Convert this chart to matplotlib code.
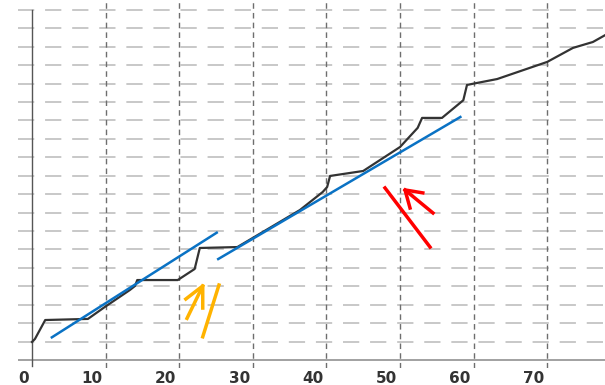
import matplotlib.pyplot as plt
from matplotlib.transforms import ScaledTranslation

# cumulative curve (x, y)
curve_x = [0.0, 0.4, 1.8, 7.6, 9.9, 13.3, 14.0, 14.3, 19.8, 22.1, 22.8, 27.9,
           36.4, 39.5, 40.1, 40.5, 45.0, 50.0, 52.4, 53.0, 55.7, 58.6, 59.1,
           60.5, 63.2, 70.0, 73.5, 76.2, 77.9]
curve_y = [0.98, 1.14, 2.17, 2.23, 2.88, 3.80, 4.02, 4.34, 4.34, 4.94, 6.08, 6.13,
           8.14, 9.12, 9.39, 9.99, 10.26, 11.56, 12.6, 13.14, 13.14, 14.1, 14.93,
           15.04, 15.25, 16.18, 16.94, 17.26, 17.64]

# fitted trend segments
fit1_x = [2.7, 25.1]
fit1_y = [1.23, 6.91]
fit2_x = [25.3, 58.2]
fit2_y = [5.48, 13.19]

# hand-drawn markers
orange_bar_x = [23.2, 25.4]
orange_bar_y = [1.26, 4.07]
orange_arrow_x = [21.06, 23.2]
orange_arrow_y = [2.26, 4.02]
orange_wings_x = [20.9, 23.2, 23.2]
orange_wings_y = [3.31, 4.02, 2.82]

red_bar_x = [47.96, 54.08]
red_bar_y = [9.34, 6.13]
red_arrow_x = [54.48, 50.68]
red_arrow_y = [7.98, 9.23]
red_wings_x = [51.36, 50.68, 53.1]
red_wings_y = [8.25, 9.23, 9.07]

xticks = [0, 10, 20, 30, 40, 50, 60, 70]

fig = plt.figure(figsize=(6.05, 3.85), dpi=100)
ax = fig.add_axes([18 / 605, 1 - 368 / 385, 1 - 18 / 605, 368 / 385])
ax.set_xlim(-1.9, 77.85)
ax.set_ylim(-0.434, 19.54)
for s in ax.spines.values():
    s.set_visible(False)

# grid
for yv in range(1, 20):
    ax.axhline(yv, color="#c4c4c4", lw=1.3, dashes=(9, 6), zorder=1)
for xv in xticks[1:]:
    ax.axvline(xv, color="#6e6e6e", lw=1.0, dashes=(4, 3), zorder=1)
ax.axhline(0, color="#9a9a9a", lw=1.3, zorder=2)
ax.plot([0, 0], [-0.3, 19], color="#555555", lw=1.0, zorder=2)

ax.plot(curve_x, curve_y, color="#333333", lw=1.6, zorder=3)
ax.plot(fit1_x, fit1_y, color="#0a72c4", lw=1.8, zorder=4)
ax.plot(fit2_x, fit2_y, color="#0a72c4", lw=1.8, zorder=4)

ax.plot(orange_bar_x, orange_bar_y, color="#FFB300", lw=2.5, zorder=5)
ax.plot(orange_arrow_x, orange_arrow_y, color="#FFB300", lw=2.5, zorder=5)
ax.plot(orange_wings_x, orange_wings_y, color="#FFB300", lw=2.5, zorder=5)
ax.plot(red_bar_x, red_bar_y, color="#FF0000", lw=2.5, zorder=5)
ax.plot(red_arrow_x, red_arrow_y, color="#FF0000", lw=2.5, zorder=5)
ax.plot(red_wings_x, red_wings_y, color="#FF0000", lw=2.5, zorder=5)

ax.set_yticks([])
ax.set_xticks(xticks)
ax.set_xticklabels([str(t) for t in xticks], fontsize=11, fontweight="bold",
                   color="#333333")
ax.tick_params(axis="x", length=0, pad=2)
shift = ScaledTranslation(-3 / 100, 0, fig.dpi_scale_trans)
for lab in ax.get_xticklabels():
    lab.set_horizontalalignment("right")
    lab.set_transform(lab.get_transform() + shift)

fig.savefig("out.png", dpi=100)
